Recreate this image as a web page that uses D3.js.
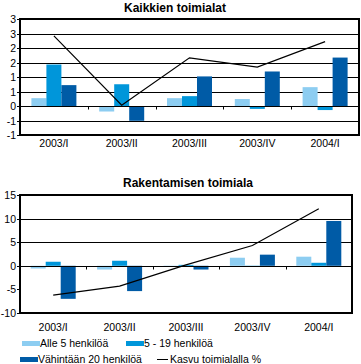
<!DOCTYPE html>
<html lang="fi">
<head>
<meta charset="UTF-8">
<title>Kaikkien toimialat / Rakentamisen toimiala</title>
<script src="https://d3js.org/d3.v7.min.js"></script>
<style>
  body { margin: 0; background: #fff; }
  svg { display: block; font-family: Arial, "Liberation Sans", sans-serif; }
</style>
</head>
<body>
<svg width="361" height="364"></svg>
<script>
// data
const quarters = ["2003/I", "2003/II", "2003/III", "2003/IV", "2004/I"];
const seriesNames = ["Alle 5 henkilöä", "5 - 19 henkilöä", "Vähintään 20 henkilöä"];
const lineName = "Kasvu toimialalla %";
const colors = ["#8dcdf1", "#0096da", "#005ba6"];

// Kaikkien toimialat
const allSmall = [0.27, -0.19, 0.27, 0.24, 0.65];
const allMid   = [1.43, 0.75, 0.34, -0.10, -0.14];
const allBig   = [0.72, -0.51, 1.02, 1.19, 1.67];
const allGrowth = [2.42, 0.03, 1.66, 1.34, 2.22];
const allTicks = [-1, -0.5, 0, 0.5, 1, 1.5, 2, 2.5, 3];
const allTickLabels = ["-1", "-1", "0", "1", "1", "2", "2", "3", "3"];

// Rakentamisen toimiala
const rakSmall = [-0.57, -0.79, 0.05, 1.71, 1.93];
const rakMid   = [0.86, 1.07, 0.2, 0.05, 0.64];
const rakBig   = [-7.0, -5.36, -0.79, 2.36, 9.5];
const rakGrowth = [-6.2, -4.3, 0.2, 4.3, 12.1];
const rakTicks = [-10, -5, 0, 5, 10, 15];
const rakTickLabels = ["-10", "-5", "0", "5", "10", "15"];

const svg = d3.select("svg");

function drawChart(o) {
  const g = svg.append("g");
  const x = d3.scaleBand().domain(quarters).range([o.left, o.right]);
  const inner = d3.scaleBand().domain(d3.range(3)).range([-22.5, 22.5]);
  const y = d3.scaleLinear().domain(o.domain).range([o.bottom, o.top]);
  const series = [o.small, o.mid, o.big];

  // title
  g.append("text")
    .attr("x", o.titleX).attr("y", o.titleY)
    .attr("text-anchor", "middle")
    .style("font-size", "12px").style("font-weight", "bold")
    .text(o.title);

  // gridlines
  g.selectAll(".grid").data(o.gridTicks).enter().append("line")
    .attr("x1", o.left).attr("x2", o.right)
    .attr("y1", d => Math.round(y(d)) + 0.5).attr("y2", d => Math.round(y(d)) + 0.5)
    .attr("stroke", "#000").attr("stroke-width", 1);

  // bars
  series.forEach((vals, si) => {
    g.selectAll(".bar" + si).data(vals).enter().append("rect")
      .attr("x", (d, i) => x(quarters[i]) + x.bandwidth() / 2 + inner(si))
      .attr("width", inner.bandwidth())
      .attr("y", d => y(Math.max(0, d)))
      .attr("height", d => Math.abs(y(d) - y(0)))
      .attr("fill", colors[si]);
  });

  // category axis at zero
  const y0 = Math.round(y(0)) + 0.5;
  g.append("line")
    .attr("x1", o.left).attr("x2", o.right)
    .attr("y1", y0).attr("y2", y0)
    .attr("stroke", "#000");
  g.selectAll(".ctick").data(quarters.slice(1)).enter().append("line")
    .attr("x1", d => Math.round(x(d)) + 0.5).attr("x2", d => Math.round(x(d)) + 0.5)
    .attr("y1", y0).attr("y2", y0 + 3)
    .attr("stroke", "#000");

  // frame: thick top/right/bottom, thin left axis
  g.append("rect")
    .attr("x", o.left).attr("y", o.top)
    .attr("width", o.right - o.left).attr("height", o.bottom - o.top)
    .attr("fill", "none").attr("stroke", "#000").attr("stroke-width", 2);
  g.append("line")
    .attr("x1", o.left + 0.5).attr("x2", o.left + 0.5)
    .attr("y1", o.top).attr("y2", o.bottom)
    .attr("stroke", "#000");

  // y tick labels
  g.selectAll(".ylab").data(o.ticks).enter().append("text")
    .attr("x", 16).attr("y", d => y(d) + 4)
    .attr("text-anchor", "end")
    .style("font-size", "10.5px")
    .text((d, i) => o.tickLabels[i]);
  g.selectAll(".ytick").data(o.ticks).enter().append("line")
    .attr("x1", o.left - 3).attr("x2", o.left)
    .attr("y1", d => Math.round(y(d)) + 0.5).attr("y2", d => Math.round(y(d)) + 0.5)
    .attr("stroke", "#000");

  // x labels
  g.selectAll(".xlab").data(quarters).enter().append("text")
    .attr("x", d => x(d) + x.bandwidth() / 2)
    .attr("y", o.xLabelY)
    .attr("text-anchor", "middle")
    .style("font-size", "10.5px")
    .text(d => d);

  // growth line
  const line = d3.line()
    .x((d, i) => x(quarters[i]) + x.bandwidth() / 2)
    .y(d => y(d));
  g.append("path").datum(o.growth)
    .attr("d", line)
    .attr("fill", "none").attr("stroke", "#000").attr("stroke-width", 1.2);
}

drawChart({
  title: "Kaikkien toimialat", titleX: 175, titleY: 12,
  left: 20, right: 359, top: 19, bottom: 135,
  domain: [-1, 3], ticks: allTicks, tickLabels: allTickLabels,
  gridTicks: [-0.5, 0.5, 1, 1.5, 2, 2.5],
  small: allSmall, mid: allMid, big: allBig, growth: allGrowth,
  xLabelY: 147
});

drawChart({
  title: "Rakentamisen toimiala", titleX: 188, titleY: 187,
  left: 20, right: 352, top: 195, bottom: 313,
  domain: [-10, 15], ticks: rakTicks, tickLabels: rakTickLabels,
  gridTicks: [5, 10],
  small: rakSmall, mid: rakMid, big: rakBig, growth: rakGrowth,
  xLabelY: 331
});

// legend
const legendItems = [
  { name: seriesNames[0], color: colors[0], x: 22, y: 343 },
  { name: seriesNames[1], color: colors[1], x: 126, y: 343 },
  { name: seriesNames[2], color: colors[2], x: 20, y: 359 },
  { name: lineName, color: null, x: 157, y: 359 }
];
const lg = svg.append("g");
legendItems.forEach(it => {
  if (it.color) {
    lg.append("rect").attr("x", it.x).attr("y", it.y - 2).attr("width", 18).attr("height", 5)
      .attr("fill", it.color);
  } else {
    lg.append("line").attr("x1", it.x).attr("x2", it.x + 11)
      .attr("y1", it.y + 0.5).attr("y2", it.y + 0.5).attr("stroke", "#000");
  }
  lg.append("text")
    .attr("x", it.x + (it.color ? 18 : 13)).attr("y", it.y + 4)
    .style("font-size", "10.5px")
    .text(it.name);
});
</script>
</body>
</html>
